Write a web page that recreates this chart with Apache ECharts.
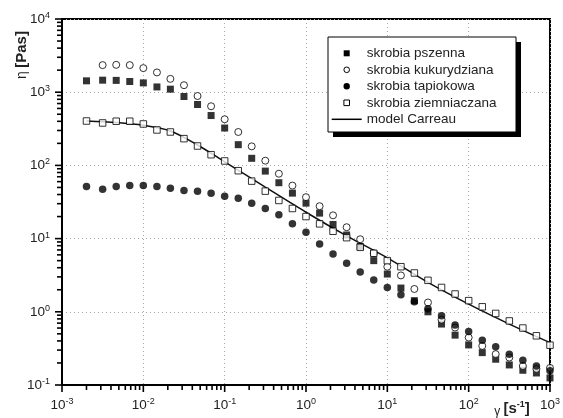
<!DOCTYPE html>
<html>
<head>
<meta charset="utf-8">
<script src="https://cdn.jsdelivr.net/npm/echarts@6/dist/echarts.min.js"></script>
<style>
  html, body { margin: 0; padding: 0; background: #fff; }
  #chart { width: 563px; height: 418px; }
</style>
</head>
<body>
<div id="chart"></div>
<script>
// szybkosc scinania [1/s]
var shearRate = [0.002, 0.00316, 0.00464, 0.00681, 0.01, 0.0147, 0.0215, 0.0316, 0.0464, 0.0681,
  0.1, 0.147, 0.215, 0.316, 0.464, 0.681, 1, 1.47, 2.15, 3.16, 4.64, 6.81,
  10, 14.7, 21.5, 31.6, 46.4, 68.1, 100, 147, 215, 316, 464, 681, 1000];

// lepkosc [Pas]
var pszenna = [1430, 1460, 1450, 1400, 1340, 1180, 1100, 873, 679, 480,
  324, 192, 125, 83.6, 58, 41.8, 30.5, 22.3, 15.6, 11.2, 7.8, 5.0,
  3.28, 2.11, 1.42, 1.0, 0.68, 0.48, 0.353, 0.277, 0.225, 0.188, 0.159, 0.146, 0.125];
var kukurydziana = [null, 2344, 2366, 2344, 2133, 1862, 1521, 1247, 887, 643,
  427, 286, 182, 116, 77, 53, 36.8, 27.7, 20.8, 14.3, 9.8, 6.3,
  4.13, 3.14, 2.05, 1.34, 0.78, 0.61, 0.445, 0.342, 0.264, 0.237, 0.182, 0.166, 0.171];
var tapiokowa = [51.5, 47.4, 51.5, 53.2, 53.2, 51.5, 48.9, 45.5, 44.5, 41.8,
  38, 35.6, 30.5, 25.8, 21.1, 15.9, 12.2, 8.45, 6.17, 4.59, 3.5, 2.72,
  2.15, 1.71, 1.37, 1.1, 0.88, 0.66, 0.537, 0.41, 0.332, 0.264, 0.218, 0.182, 0.156];
var ziemniaczana = [404, 380, 401, 401, 368, 305, 286, 232, 184, 140,
  115, 84.6, 61, 44.5, 33.2, 25.8, 20, 15.9, 12.6, 10.3, 7.6, 6.3,
  5.0, 4.13, 3.39, 2.69, 2.15, 1.75, 1.42, 1.17, 0.95, 0.75, 0.6, 0.47, 0.35];

// model Carreau (odczyt z krzywej)
var modelRate = [0.002, 0.00464, 0.01, 0.0215, 0.0464, 0.1, 0.316, 1, 3.16, 10, 31.6, 100, 316, 1000];
var modelEta = [404, 385, 353, 295, 190, 112, 50.5, 22.9, 10.9, 5.45, 2.52, 1.27, 0.68, 0.38];

var seriesNames = ['skrobia pszenna', 'skrobia kukurydziana', 'skrobia tapiokowa', 'skrobia ziemniaczana', 'model Carreau'];

var xMin = 0.001, xMax = 1000, yMin = 0.1, yMax = 10000;

var FONT = '"Liberation Sans", Arial, sans-serif';

// podzialki osi: [x, y, dlugosc, os] - glowne co dekade, drobne 2..9
var axisTicks = [];
for (var e = -3; e <= 3; e++) {
  axisTicks.push([Math.pow(10, e), yMin, 6, 0]);
  if (e === 3) break;
  for (var m = 2; m <= 9; m++) axisTicks.push([m * Math.pow(10, e), yMin, 4, 0]);
}
for (var k = -1; k <= 4; k++) {
  axisTicks.push([xMin, Math.pow(10, k), 6, 1]);
  if (k === 4) break;
  for (var n = 2; n <= 9; n++) axisTicks.push([xMin, n * Math.pow(10, k), 4, 1]);
}

function pairs (xs, ys) {
  var out = [];
  for (var i = 0; i < xs.length; i++) {
    if (ys[i] != null) out.push([xs[i], ys[i]]);
  }
  return out;
}

function powLabel (v) {
  var p = Math.round(Math.log10(v));
  return '{b|10}{s|' + p + '}';
}

function renderTick (params, api) {
  var p = api.coord([api.value(0), api.value(1)]);
  var len = api.value(2);
  var shape = api.value(3) === 0
    ? { x1: p[0], y1: p[1] + 1, x2: p[0], y2: p[1] + 1 + len }
    : { x1: p[0] - 1, y1: p[1], x2: p[0] - 1 - len, y2: p[1] };
  return { type: 'line', shape: shape, style: { stroke: '#000', lineWidth: 1.6 } };
}

var labelRich = {
  b: { fontSize: 13.5, lineHeight: 16, color: '#222', fontFamily: FONT },
  s: { fontSize: 9, lineHeight: 6, color: '#222', fontFamily: FONT, verticalAlign: 'top' }
};

var gridLine = { show: true, lineStyle: { color: '#a8a8a8', width: 1, type: [1, 3] } };

// legenda rysowana recznie (ramka z cieniem)
var LX = 328, LY = 37, LW = 188, LH = 95, ROW0 = 53.3, ROWH = 16.5, SYMX = 346.7, TXTX = 366.7;
function rowY (i) { return ROW0 + i * ROWH; }
var legendText = [];
for (var r = 0; r < seriesNames.length; r++) {
  legendText.push({
    type: 'text', x: TXTX, y: rowY(r), z: 12, silent: true,
    style: { text: seriesNames[r], fill: '#222', fontSize: 13.5, fontFamily: FONT,
      align: 'left', verticalAlign: 'middle', textAlign: 'left', textVerticalAlign: 'middle' }
  });
}
var legendGraphics = [
  { type: 'rect', z: 10, silent: true, shape: { x: LX + 5, y: LY + 5, width: LW, height: LH }, style: { fill: '#000' } },
  { type: 'rect', z: 11, silent: true, shape: { x: LX, y: LY, width: LW, height: LH }, style: { fill: '#fff', stroke: '#000', lineWidth: 1 } },
  { type: 'rect', z: 12, silent: true, shape: { x: SYMX - 3, y: rowY(0) - 3, width: 6, height: 6 }, style: { fill: '#000' } },
  { type: 'circle', z: 12, silent: true, shape: { cx: SYMX, cy: rowY(1), r: 2.8 }, style: { fill: '#fff', stroke: '#000', lineWidth: 1 } },
  { type: 'circle', z: 12, silent: true, shape: { cx: SYMX, cy: rowY(2), r: 3.2 }, style: { fill: '#000' } },
  { type: 'rect', z: 12, silent: true, shape: { x: SYMX - 2.8, y: rowY(3) - 2.8, width: 5.6, height: 5.6 }, style: { fill: '#fff', stroke: '#000', lineWidth: 1 } },
  { type: 'line', z: 12, silent: true, shape: { x1: SYMX - 15, y1: rowY(4), x2: SYMX + 15, y2: rowY(4) }, style: { stroke: '#000', lineWidth: 1.5 } }
].concat(legendText);

var chart = echarts.init(document.getElementById('chart'));

chart.setOption({
  animation: false,
  backgroundColor: '#fff',
  grid: { left: 62, right: 10, top: 19, bottom: 33, show: true, borderColor: '#000', borderWidth: 2 },
  xAxis: {
    type: 'log', logBase: 10, min: xMin, max: xMax,
    axisLine: { show: true, lineStyle: { color: '#000', width: 2 } },
    axisTick: { show: false },
    axisLabel: { margin: 12, formatter: powLabel, rich: labelRich },
    splitLine: gridLine
  },
  yAxis: {
    type: 'log', logBase: 10, min: yMin, max: yMax,
    axisLine: { show: true, lineStyle: { color: '#000', width: 2 } },
    axisTick: { show: false },
    axisLabel: { margin: 12, formatter: powLabel, rich: labelRich },
    splitLine: gridLine
  },
  graphic: legendGraphics.concat([
    {
      type: 'text', x: 22, y: 55, rotation: Math.PI / 2,
      style: {
        text: '{g|η} {b|[Pas]}',
        align: 'center', verticalAlign: 'middle',
        textAlign: 'center', textVerticalAlign: 'middle',
        fill: '#222',
        rich: {
          g: { fontSize: 14, lineHeight: 18, fill: '#222', fontFamily: FONT },
          b: { fontSize: 15, lineHeight: 18, fontWeight: 'bold', fill: '#222', fontFamily: FONT }
        }
      }
    },
    {
      type: 'text', x: 512, y: 409,
      style: {
        text: '{g|γ} {b|[s}{s|-1}{b|]}',
        align: 'center', verticalAlign: 'middle',
        textAlign: 'center', textVerticalAlign: 'middle',
        fill: '#222',
        rich: {
          g: { fontSize: 12, lineHeight: 13, fill: '#222', fontFamily: FONT, verticalAlign: 'bottom' },
          b: { fontSize: 15, lineHeight: 17, fontWeight: 'bold', fill: '#222', fontFamily: FONT },
          s: { fontSize: 9, lineHeight: 6, fontWeight: 'bold', fill: '#222', fontFamily: FONT, verticalAlign: 'top' }
        }
      }
    }
  ]),
  series: [
    {
      name: seriesNames[0], type: 'scatter', z: 3,
      symbol: 'rect', symbolSize: 7,
      itemStyle: { color: '#000' },
      data: pairs(shearRate, pszenna)
    },
    {
      name: seriesNames[1], type: 'scatter', z: 3,
      symbol: 'circle', symbolSize: 7,
      itemStyle: { color: '#fff', borderColor: '#000', borderWidth: 1 },
      data: pairs(shearRate, kukurydziana)
    },
    {
      name: seriesNames[2], type: 'scatter', z: 3,
      symbol: 'circle', symbolSize: 7.5,
      itemStyle: { color: '#000' },
      data: pairs(shearRate, tapiokowa)
    },
    {
      name: seriesNames[3], type: 'scatter', z: 3,
      symbol: 'rect', symbolSize: 6.5,
      itemStyle: { color: '#fff', borderColor: '#000', borderWidth: 1 },
      data: pairs(shearRate, ziemniaczana)
    },
    {
      name: seriesNames[4], type: 'line', z: 2,
      smooth: 0.3, symbol: 'none', showSymbol: false,
      lineStyle: { color: '#111', width: 1.5 },
      data: pairs(modelRate, modelEta)
    },
    {
      // podzialki osi (glowne i drobne)
      name: 'podzialki', type: 'custom', silent: true, clip: false, z: 6,
      renderItem: renderTick,
      data: axisTicks
    }
  ]
});
</script>
</body>
</html>
